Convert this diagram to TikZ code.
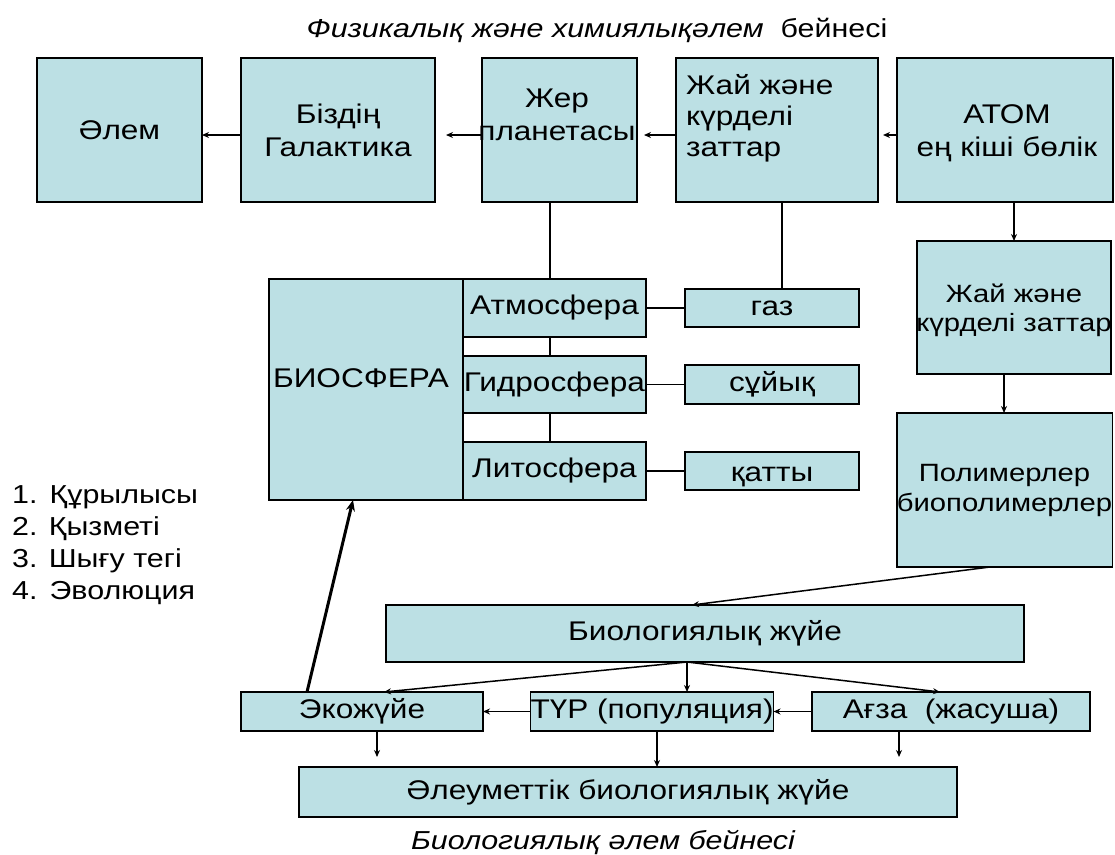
\documentclass[tikz,border=0pt]{standalone}
\usepackage{fontspec}
\setmainfont{Liberation Sans}[FakeStretch=1.17]
\usetikzlibrary{arrows.meta,calc}
\definecolor{boxfill}{HTML}{BCE0E4}
\begin{document}
\begin{tikzpicture}[x=1pt,y=-1pt,
  box/.style={draw=black, line width=1.5pt, fill=boxfill, inner sep=0pt, outer sep=0pt,
    font=\fontsize{27}{33}\selectfont, align=center},
  txt/.style={inner sep=0pt, font=\fontsize{27}{33}\selectfont, align=center},
  conn/.style={line width=1.5pt},
  arr/.style={line width=1.5pt, -{Stealth[length=7pt,width=6pt]}},
  thickarr/.style={line width=3pt, -{Stealth[length=11pt,width=9pt]}}]
\useasboundingbox (0,0) rectangle (1115,854);
\fill[white] (0,0) rectangle (1115,854);

% titles
\node[txt, font=\fontsize{26}{30}\selectfont] (title) at (597,30) {{\itshape Физикалық және химиялықәлем}\ \ бейнесі};
\node[txt, font=\itshape\fontsize{26}{30}\selectfont] (btitle) at (603,842) {Биологиялық әлем бейнесі};

% top row
\node[box, minimum width=165pt, minimum height=144pt] (alem) at (119.5,130) {Әлем};
\node[box, minimum width=194pt, minimum height=144pt] (gal) at (338,130) {Біздің\\Галактика};
\node[box, minimum width=155pt, minimum height=144pt] (zher) at (559.5,130) {};
\node[txt] (zhertxt) at (557,115) {Жер\\планетасы};
\node[box, minimum width=202pt, minimum height=144pt] (zhai) at (777,130) {};
\node[txt, align=left, anchor=west] (zhaitxt) at (686,118) {Жай және\\[-2pt]күрделі\\[-2pt]заттар};
\node[box, minimum width=216pt, minimum height=144pt] (atom) at (1005,130) {};
\node[txt] (atomtxt) at (1007,133) {АТОМ\\ең кіші бөлік};

% right column
\node[box, minimum width=194pt, minimum height=133pt] (zhai2) at (1014,307.5) {};
\node[txt, font=\fontsize{25}{31}\selectfont] (zhai2txt) at (1014,310) {Жай және\\[-2pt]күрделі заттар};
\node[box, minimum width=213pt, minimum height=154pt, font=\fontsize{25}{31}\selectfont] (poly) at (1004.5,490) {Полимерлер\\[-1pt]биополимерлер};

% biosphere
\node[box, minimum width=194pt, minimum height=221pt] (bio) at (366,389.5) {};
\node[txt] (biotxt) at (361,378) {БИОСФЕРА};
\node[box, minimum width=183pt, minimum height=58pt] (atm) at (554.5,308) {Атмосфера};
\node[box, minimum width=183pt, minimum height=57pt] (gid) at (554.5,384.5) {Гидросфера};
\node[box, minimum width=183pt, minimum height=58pt] (lit) at (554.5,471) {Литосфера};
\node[box, minimum width=174pt, minimum height=38pt, text height=17pt, text depth=2pt] (gaz) at (772,308) {газ};
\node[box, minimum width=174pt, minimum height=39pt, text height=17pt, text depth=4pt] (suy) at (772,384.5) {сұйық};
\node[box, minimum width=174pt, minimum height=38pt, text height=20pt, text depth=0pt] (kat) at (772,471) {қатты};

% list
\node[txt, align=left, anchor=north west, font=\fontsize{26}{32.3}\selectfont] (list) at (12,485)
  {1.\hspace{12pt}Құрылысы\\2. Қызметі\\3. Шығу тегі\\4.\hspace{12pt}Эволюция};

% bottom part
\node[box, minimum width=638pt, minimum height=57pt] (bsys) at (705,633.5) {Биологиялық жүйе};
\node[box, minimum width=242pt, minimum height=39pt] (eko) at (362,711.5) {Экожүйе};
\node[box, minimum width=242pt, minimum height=39pt] (tur) at (652,711.5) {ТҮР (популяция)};
\node[box, minimum width=278pt, minimum height=39pt] (agza) at (951,711.5) {Ағза\ \ (жасуша)};
\node[box, minimum width=658pt, minimum height=50pt] (soc) at (628,792) {Әлеуметтік биологиялық жүйе};

% helper coordinates
\coordinate (xa) at (550,0);
\coordinate (xb) at (782,0);
\coordinate (xc) at (1014,0);
\coordinate (xd) at (1004,0);
\coordinate (pstart) at (990,567);
\coordinate (pend) at (692,605);
\coordinate (bs) at (687,662);
\coordinate (ekoin) at (384,692);
\coordinate (agzain) at (940,692);
\coordinate (ekothick) at (307,692);
\coordinate (biothick) at (353,500);
\coordinate (ekod) at (377,757);
\coordinate (agzad) at (899,757);
\coordinate (turd) at (657,0);

% top arrows
\draw[arr] ([yshift=-5pt]gal.west) -- ([yshift=-5pt]alem.east);
\draw[arr, shorten >=11pt] ([yshift=-5pt]zher.west) -- ([yshift=-5pt]gal.east);
\draw[arr, shorten >=7pt] ([yshift=-5pt]zhai.west) -- ([yshift=-5pt]zher.east);
\draw[arr, shorten >=5pt] ([yshift=-5pt]atom.west) -- ([yshift=-5pt]zhai.east);

% verticals
\draw[conn] (zher.south -| xa) -- (atm.north -| xa);
\draw[conn] (zhai.south -| xb) -- (gaz.north -| xb);
\draw[conn] (atm.south -| xa) -- (gid.north -| xa);
\draw[conn] (gid.south -| xa) -- (lit.north -| xa);
\draw[conn] (atm.east) -- (gaz.west);
\draw[conn] (gid.east) -- (suy.west);
\draw[conn] (lit.east) -- (kat.west);
\draw[arr] (atom.south -| xc) -- (zhai2.north -| xc);
\draw[arr] (zhai2.south -| xd) -- (poly.north -| xd);
\draw[arr] (pstart) -- (pend);

% bottom arrows
\draw[arr] (bs) -- (ekoin);
\draw[arr] (bs) -- (bs |- tur.north);
\draw[arr] (bs) -- (agzain);
\draw[arr] (agza.west) -- (tur.east);
\draw[arr] (tur.west) -- (eko.east);
\draw[arr] (eko.south -| ekod) -- (ekod);
\draw[arr] (agza.south -| agzad) -- (agzad);
\draw[arr] (tur.south -| turd) -- (soc.north -| turd);
\draw[thickarr] (ekothick) -- (biothick);
\end{tikzpicture}
\end{document}
